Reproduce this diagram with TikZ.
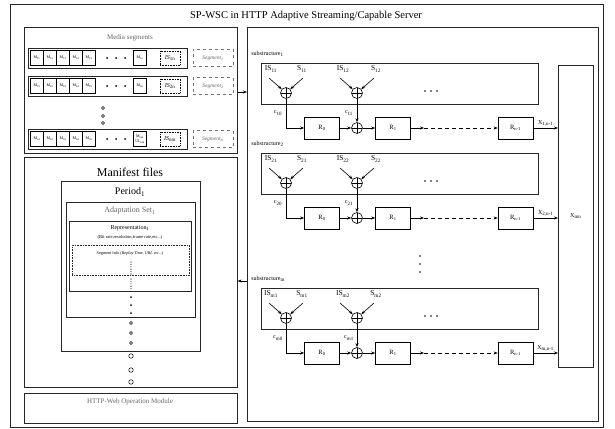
\documentclass[tikz,border=0pt]{standalone}
\usepackage{fontspec}
\setmainfont{Liberation Serif}
\usetikzlibrary{arrows.meta}

\begin{document}
\begin{tikzpicture}[x=1pt, y=-1pt, line width=.6pt,
    box/.style={draw=black!85, anchor=north west, inner sep=0pt},
    cell/.style={draw, line width=.8pt, minimum width=13pt, minimum height=15pt, inner sep=0pt, font=\fontsize{4}{4.5}\selectfont},
    regbox/.style={draw, minimum width=35pt, minimum height=22pt, inner sep=0pt, font=\fontsize{6.5}{7}\selectfont},
    sumnode/.style={circle, draw, minimum size=11pt, inner sep=0pt,
        path picture={\draw (path picture bounding box.north) -- (path picture bounding box.south)
                            (path picture bounding box.west) -- (path picture bounding box.east);}},
    lab/.style={font=\fontsize{7.5}{8}\selectfont, inner sep=1pt},
    small/.style={font=\fontsize{6}{7}\selectfont, inner sep=1pt},
    grey/.style={text=black!60},
    arr/.style={-{Stealth[length=4pt,width=3pt]}},
    dot/.style={circle, fill, inner sep=0pt, minimum size=#1},
    ring/.style={circle, draw, line width=.5pt, inner sep=0pt, minimum size=#1},
  ]
  \useasboundingbox (0,0) rectangle (615,428);

  % Server frame and title
  \node[box, minimum width=593, minimum height=423] (server) at (10,4) {};
  \node[font=\fontsize{10.5}{12}\selectfont] (title) at (306,16) {SP-WSC in HTTP Adaptive Streaming/Capable Server};

  % Media segments
  \node[box, minimum width=213, minimum height=126] (media) at (24,27) {};
  \node[font=\fontsize{7}{8}\selectfont, grey] (mediat) at (130,38) {Media segments};
  \foreach \r/\y/\last/\is/\seg in {1/58/{M\textsubscript{1n}}/1n/1, 2/86/{M\textsubscript{2n}}/2n/2, n/139/{M\textsubscript{nm}\\UL\textsubscript{nm}}/nm/m} {
    \node[box, line width=.9pt, minimum width=159, minimum height=20] (row\r) at (28,\y-10) {};
    \foreach \c/\cx in {1/37, 2/50, 3/63, 4/76, 5/89}
      \node[cell] (m\r\c) at (\cx,\y) {M\textsubscript{\r\c}};
    \node[dot=2pt] (rd\r a) at (107,\y) {};
    \node[dot=2pt] (rd\r b) at (116,\y) {};
    \node[dot=2pt] (rd\r c) at (125,\y) {};
    \node[cell, align=center] (m\r n) at (140,\y) {\last};
    \node[draw, densely dotted, minimum width=20, minimum height=14, inner sep=0pt, small] (is\r) at (170,\y) {\textit{IS}\textsubscript{\is}};
    \node[draw=black!55, dashed, minimum width=40, minimum height=17, inner sep=0pt, grey,
          font=\fontsize{5.5}{6}\selectfont\itshape] (seg\r) at (213,\y) {Segment\textsubscript{\seg}};
  }
  \node[ring=3pt] (rowdota) at (103,108) {};
  \node[ring=3pt] (rowdotb) at (103,116) {};
  \node[ring=3pt] (rowdotc) at (103,123) {};

  % Manifest files
  \node[box, minimum width=213, minimum height=230] (manifest) at (24,157) {};
  \node[font=\fontsize{12}{14}\selectfont] (manit) at (130,172) {Manifest files};
  \node[box, minimum width=139, minimum height=170] (period) at (61,181) {};
  \node[font=\fontsize{10}{12}\selectfont] (periodt) at (130,192) {Period\textsubscript{1}};
  \node[box, minimum width=129, minimum height=115] (adapt) at (66,202) {};
  \node[font=\fontsize{8}{9}\selectfont, grey] (adaptt) at (130,211) {Adaptation Set\textsubscript{1}};
  \node[box, line width=.9pt, minimum width=122, minimum height=70] (repr) at (69,221) {};
  \node[font=\fontsize{6}{7}\selectfont] (reprt) at (130,228) {Representation\textsubscript{1}};
  \node[font=\fontsize{4.5}{5}\selectfont] (reprs) at (130,237) {(Bit rate,resolution,frame rate,etc...)};
  \node[box, densely dotted, minimum width=117, minimum height=30] (seginfo) at (72,245) {};
  \node[font=\fontsize{4.2}{5}\selectfont] (seginfot) at (130,253) {Segment Info (\textit{Replay Time, URL etc...})};
  \draw[line width=1.1pt, line cap=round, dash pattern=on 0pt off 2.4pt] (131,262) -- (131,274);
  \draw[line width=1.1pt, line cap=round, dash pattern=on 0pt off 2.4pt] (131,279) -- (131,289);
  \foreach \y in {297,305,313} \node[dot=2pt] (rdot\y) at (131,\y) {};
  \foreach \y in {323,333,343} \node[ring=3pt] (adot\y) at (131,\y) {};
  \foreach \y in {356,370,382} \node[ring=4.5pt] (pdot\y) at (131,\y) {};

  % HTTP-Web module
  \node[box, minimum width=213, minimum height=30] (http) at (24,393) {};
  \node[font=\fontsize{7}{8}\selectfont, grey] (httpt) at (130,402) {HTTP-Web Operation Module};

  % Right panel with the substructures
  \node[box, minimum width=351, minimum height=394] (right) at (247,27) {};
  \node[box, font=\fontsize{6}{7}\selectfont, minimum width=35, minimum height=302] (xmn) at (558,65) {X\textsubscript{mn}};
  \coordinate (toR) at (240,92);
  \coordinate (toM) at (240,281);
  \draw[arr] (media.east |- toR) -- (right.west |- toR);
  \draw[arr] (right.west |- toM) -- (manifest.east |- toM);

  \foreach \k/\T in {1/63, 2/153, m/288} {
    \node[small, anchor=west] (sl\k) at (250,\T-9) {substructure\textsubscript{\k}};
    \node[box, minimum width=277, minimum height=41] (sb\k) at (261,\T) {};
    \node[lab] (isa\k) at (271,\T+6) {IS\textsubscript{\k1}};
    \node[lab] (sa\k) at (302,\T+6) {S\textsubscript{\k1}};
    \node[lab] (isb\k) at (343,\T+6) {IS\textsubscript{\k2}};
    \node[lab] (sb\k t) at (376,\T+6) {S\textsubscript{\k2}};
    \node[sumnode] (pa\k) at (286,\T+30) {};
    \node[sumnode] (pb\k) at (357,\T+30) {};
    \coordinate (ta\k) at (269,\T+15);
    \coordinate (tb\k) at (303,\T+15);
    \coordinate (tc\k) at (340,\T+15);
    \coordinate (td\k) at (374,\T+15);
    \draw[arr] (ta\k) -- (pa\k);
    \draw[arr] (tb\k) -- (pa\k);
    \draw[arr] (tc\k) -- (pb\k);
    \draw[arr] (td\k) -- (pb\k);
    \node[dot=1.8pt] (e\k a) at (425,\T+28) {};
    \node[dot=1.8pt] (e\k b) at (431,\T+28) {};
    \node[dot=1.8pt] (e\k c) at (437,\T+28) {};

    % chain of registers
    \node[small] (ca\k) at (278,\T+50) {c\textsubscript{\k0}};
    \node[small] (cb\k) at (349,\T+50) {c\textsubscript{\k1}};
    \node[regbox] (ra\k) at (322,\T+65) {R\textsubscript{0}};
    \node[sumnode] (pc\k) at (357,\T+65) {};
    \node[regbox] (rb\k) at (393,\T+65) {R\textsubscript{1}};
    \node[regbox] (rn\k) at (515.5,\T+65) {R\textsubscript{n-1}};
    \coordinate (dd\k) at (424,\T+65);
    \draw[arr] (pa\k) |- (ra\k);
    \draw[arr] (ra\k) -- (pc\k);
    \draw[arr] (pb\k) -- (pc\k);
    \draw[arr] (pc\k) -- (rb\k);
    \draw[arr] (rb\k) -- (dd\k);
    \draw[arr, dash pattern=on 4pt off 3pt] (dd\k) -- (rn\k);
    \draw[arr] (rn\k) -- (rn\k -| xmn.west) node[midway, above, small] {X\textsubscript{\k,n-1}};
  }
  \node[dot=1.8pt] (vda) at (420,256) {};
  \node[dot=1.8pt] (vdb) at (420,264) {};
  \node[dot=1.8pt] (vdc) at (420,272) {};
\end{tikzpicture}
\end{document}
